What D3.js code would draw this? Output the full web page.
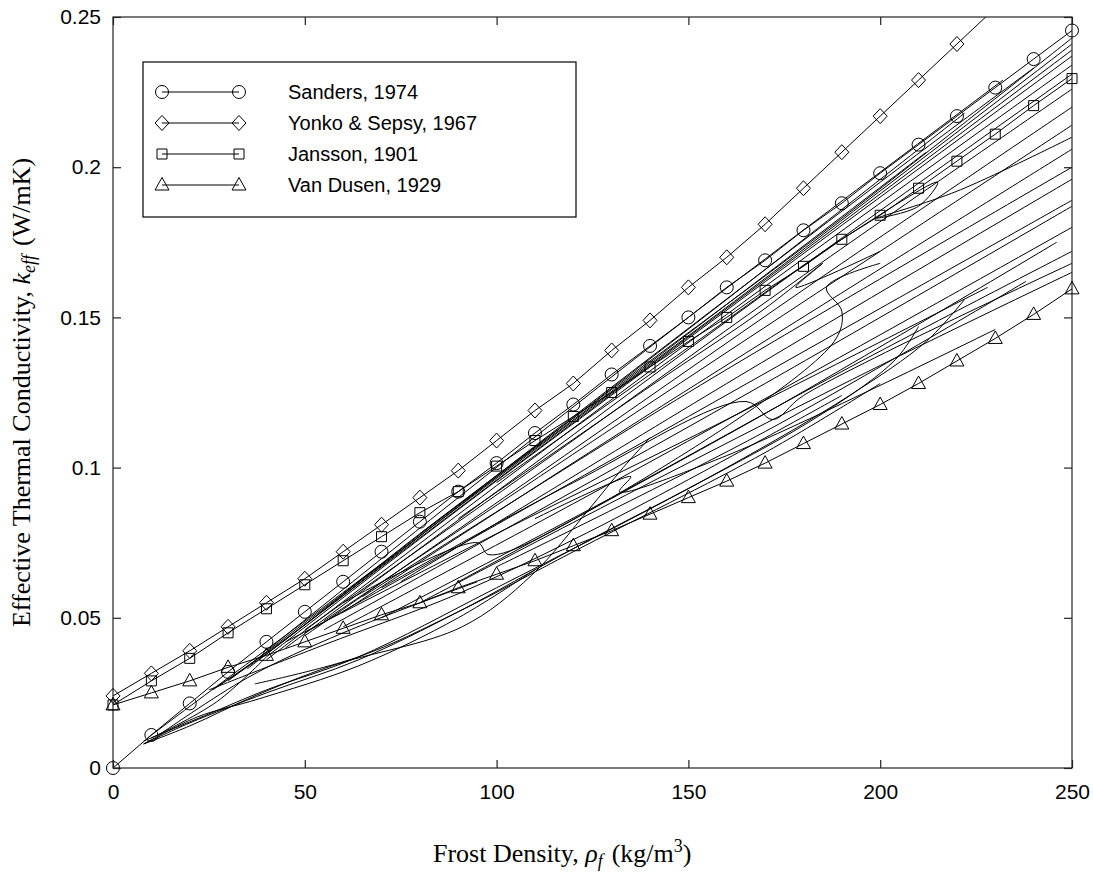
<!DOCTYPE html>
<html>
<head>
<meta charset="utf-8">
<script src="https://cdn.jsdelivr.net/npm/d3@7"></script>
<style>
  html, body { margin: 0; padding: 0; background: #fff; }
  svg { display: block; }
  .tick-label { font-family: "Liberation Sans", Arial, sans-serif; font-size: 21px; fill: #000; }
  .axis-title { font-family: "Liberation Serif", "Times New Roman", serif; font-size: 26px; fill: #000; }
  .legend-text { font-family: "Liberation Sans", Arial, sans-serif; font-size: 20px; fill: #000; }
</style>
</head>
<body>
<svg id="chart" width="1093" height="874"></svg>
<script>
// Frost density axis (kg/m^3) and conductivity axis (W/mK)
const xTicks = [0, 50, 100, 150, 200, 250];
const yTicks = [0, 0.05, 0.1, 0.15, 0.2, 0.25];
const yTickLabels = ["0", "0.05", "0.1", "0.15", "0.2", "0.25"];

// Density grid for the four marked correlations
const rho = [0, 10, 20, 30, 40, 50, 60, 70, 80, 90, 100, 110, 120, 130, 140, 150,
             160, 170, 180, 190, 200, 210, 220, 230, 240, 250];

const sanders  = [0, 0.011, 0.0215, 0.032, 0.042, 0.052, 0.062, 0.072, 0.082, 0.092, 0.1015,
                  0.1115, 0.121, 0.131, 0.1405, 0.150, 0.160, 0.169, 0.179, 0.188, 0.198,
                  0.2075, 0.217, 0.2265, 0.236, 0.2455];
const yonko    = [0.024, 0.0315, 0.039, 0.047, 0.055, 0.063, 0.072, 0.081, 0.090, 0.099, 0.109,
                  0.119, 0.128, 0.139, 0.149, 0.160, 0.170, 0.181, 0.193, 0.205, 0.217,
                  0.229, 0.241, 0.253, 0.266, 0.279];
const jansson  = [0.021, 0.029, 0.0365, 0.045, 0.053, 0.061, 0.069, 0.077, 0.085, 0.092, 0.1005,
                  0.109, 0.117, 0.125, 0.1335, 0.142, 0.150, 0.159, 0.167, 0.176, 0.184,
                  0.193, 0.202, 0.211, 0.2205, 0.2295];
const vanDusen = [0.021, 0.025, 0.029, 0.0335, 0.0375, 0.042, 0.0465, 0.051, 0.055, 0.060, 0.0645,
                  0.069, 0.074, 0.079, 0.0845, 0.090, 0.0955, 0.1015, 0.108, 0.1145, 0.121,
                  0.128, 0.1355, 0.143, 0.151, 0.1595];

const seriesNames = ["Sanders, 1974", "Yonko & Sepsy, 1967", "Jansson, 1901", "Van Dusen, 1929"];
const seriesSymbols = ["circle", "diamond", "square", "triangle"];

// Other published correlations, each as [density, k_eff] pairs.
// Upper bundle: close to the Sanders / Jansson curves
const upperBundle = [
  [[27,0.027],[40,0.038],[80,0.078],[130,0.126],[190,0.183],[250,0.243]],
  [[30,0.029],[60,0.058],[110,0.106],[170,0.163],[250,0.241]],
  [[35,0.033],[70,0.067],[120,0.115],[180,0.172],[250,0.239]],
  [[40,0.037],[90,0.086],[150,0.143],[250,0.237]],
  [[40,0.036],[100,0.094],[160,0.151],[250,0.234]],
  [[45,0.040],[100,0.092],[170,0.158],[250,0.231]],
  [[50,0.046],[110,0.100],[180,0.164],[250,0.226]],
  [[50,0.044],[120,0.106],[190,0.168],[250,0.220]],
  [[55,0.049],[130,0.113],[200,0.172],[250,0.214]],
  [[60,0.052],[140,0.118],[250,0.206]],
  [[65,0.057],[150,0.125],[250,0.200]],
  [[75,0.062],[160,0.128],[250,0.196]],
  [[40,0.039],[90,0.090],[150,0.150],[232,0.229]],
  [[60,0.058],[120,0.117],[200,0.195],[240,0.233]],
  [[80,0.078],[140,0.135],[212,0.205]],
  [[26,0.026],[45,0.043],[95,0.092],[160,0.156],[222,0.218]],
  [[100,0.095],[150,0.140],[190,0.176],[215,0.195],[210,0.187],[199,0.183],[220,0.192],[250,0.210]],
  [[90,0.083],[140,0.127],[170,0.153],[185,0.168],[178,0.160],[200,0.172]]
];

// Middle bundle: between the Jansson and Van Dusen curves
const middleBundle = [
  [[50,0.045],[100,0.081],[150,0.117],[200,0.153],[250,0.189]],
  [[55,0.046],[110,0.085],[170,0.128],[250,0.187]],
  [[60,0.047],[120,0.088],[180,0.130],[250,0.180]],
  [[70,0.050],[130,0.090],[190,0.132],[250,0.172]],
  [[80,0.055],[140,0.095],[200,0.134],[250,0.165]],
  [[90,0.062],[170,0.118],[246,0.175]],
  [[100,0.067],[170,0.112],[238,0.162]],
  [[45,0.042],[100,0.078],[160,0.116],[228,0.160]],
  [[70,0.060],[120,0.095],[165,0.122],[172,0.116],[180,0.124],[250,0.168]],
  [[60,0.055],[95,0.075],[98,0.071],[130,0.090],[188,0.142],[190,0.152],[186,0.160],[200,0.168]],
  [[110,0.083],[135,0.097],[132,0.092],[160,0.104],[230,0.146]]
];

// Lower bundle: curves starting near the origin, closing in on Van Dusen
const lowerBundle = [
  [[8,0.008],[20,0.015],[40,0.025],[64,0.036],[90,0.052],[120,0.073],[160,0.100],[192,0.124],[212,0.142],[222,0.156]],
  [[8,0.008],[20,0.014],[37,0.024],[57,0.034],[91,0.047],[109,0.064],[124,0.086],[133,0.100],[140,0.110]],
  [[8,0.009],[25,0.018],[40,0.026],[64,0.037],[100,0.060],[150,0.093],[185,0.118],[204,0.136],[210,0.147]],
  [[10,0.010],[27,0.022],[40,0.037]],
  [[8,0.008],[22,0.017],[38,0.023],[64,0.034],[90,0.050],[110,0.066]],
  [[37,0.028],[64,0.037],[90,0.052],[120,0.072],[170,0.105],[200,0.128]],
  [[9,0.010],[30,0.030],[48,0.047],[70,0.068]],
  [[12,0.011],[35,0.030],[60,0.045],[95,0.062]],
  [[25,0.026],[55,0.041],[90,0.058],[120,0.076],[150,0.096],[190,0.124]]
];

const x = d3.scaleLinear().domain([0, 250]).range([113, 1072]);
const y = d3.scaleLinear().domain([0, 0.25]).range([768, 17]);

const svg = d3.select("#chart");

svg.append("defs").append("clipPath").attr("id", "plot-clip")
  .append("rect")
  .attr("x", x(0)).attr("y", y(0.25))
  .attr("width", x(250) - x(0)).attr("height", y(0) - y(0.25));

const plot = svg.append("g").attr("clip-path", "url(#plot-clip)");

// Thin correlation curves
const curveLine = d3.line()
  .x(d => x(d[0])).y(d => y(d[1]))
  .curve(d3.curveCatmullRom.alpha(0.5));

[upperBundle, middleBundle, lowerBundle].forEach(group => {
  plot.selectAll(null)
    .data(group)
    .enter().append("path")
    .attr("d", curveLine)
    .attr("fill", "none")
    .attr("stroke", "#000")
    .attr("stroke-width", 1);
});

// Marked correlations
const markedSeries = [sanders, yonko, jansson, vanDusen].map((vals, i) => ({
  name: seriesNames[i],
  symbol: seriesSymbols[i],
  points: rho.map((r, j) => [r, vals[j]])
}));

const straight = d3.line().x(d => x(d[0])).y(d => y(d[1]));

function symbolPath(kind) {
  switch (kind) {
    case "circle":  return "M6.5,0A6.5,6.5 0 1,1 -6.5,0A6.5,6.5 0 1,1 6.5,0Z";
    case "diamond": return "M0,-7.5L7,0L0,7.5L-7,0Z";
    case "square":  return "M-5,-5L5,-5L5,5L-5,5Z";
    case "triangle":return "M0,-7.5L7,5L-7,5Z";
  }
}

// Lines are clipped to the axes; markers inside the data range are drawn in full
const markerLayer = svg.append("g");
markedSeries.forEach(s => {
  plot.append("path")
    .attr("d", straight(s.points))
    .attr("fill", "none")
    .attr("stroke", "#000")
    .attr("stroke-width", 1);
});

// Axes box
svg.append("rect")
  .attr("x", x(0)).attr("y", y(0.25))
  .attr("width", x(250) - x(0)).attr("height", y(0) - y(0.25))
  .attr("fill", "none").attr("stroke", "#222").attr("stroke-width", 1.2);

markedSeries.forEach(s => {
  svg.append("g").selectAll(null)
    .data(s.points.filter(p => p[1] <= 0.25))
    .enter().append("path")
    .attr("transform", d => `translate(${x(d[0])},${y(d[1])})`)
    .attr("d", symbolPath(s.symbol))
    .attr("fill", "none")
    .attr("stroke", "#000")
    .attr("stroke-width", 1);
});

// Inward ticks on all four sides
const tickLen = 8;
const xAxisBottom = d3.axisBottom(x).tickValues(xTicks).tickSize(-tickLen).tickFormat(d3.format("d")).tickPadding(tickLen + 8);
const xAxisTop = d3.axisTop(x).tickValues(xTicks).tickSize(-tickLen).tickFormat("");
const yAxisLeft = d3.axisLeft(y).tickValues(yTicks).tickSize(-tickLen).tickFormat((d, i) => yTickLabels[i]).tickPadding(tickLen + 4);
const yAxisRight = d3.axisRight(y).tickValues(yTicks).tickSize(-tickLen).tickFormat("");

function styleAxis(g) {
  g.attr("font-family", null).attr("font-size", null);
  g.select(".domain").remove();
  g.selectAll(".tick line").attr("stroke", "#222").attr("stroke-width", 1.2);
  g.selectAll(".tick text").attr("class", "tick-label");
}

svg.append("g").attr("transform", `translate(0,${y(0)})`).call(xAxisBottom).call(styleAxis);
svg.append("g").attr("transform", `translate(0,${y(0.25)})`).call(xAxisTop).call(styleAxis);
svg.append("g").attr("transform", `translate(${x(0)},0)`).call(yAxisLeft).call(styleAxis);
svg.append("g").attr("transform", `translate(${x(250)},0)`).call(yAxisRight).call(styleAxis);

// Axis titles
const xt = svg.append("text").attr("class", "axis-title")
  .attr("x", 433).attr("y", 862).attr("text-anchor", "start");
xt.append("tspan").text("Frost Density, ");
xt.append("tspan").attr("font-style", "italic").text("ρ");
xt.append("tspan").attr("font-style", "italic").attr("font-size", "18px").attr("dy", 5).text("f");
xt.append("tspan").attr("dy", -5).attr("dx", 9).text("(kg/m");
xt.append("tspan").attr("font-size", "18px").attr("dy", -10).text("3");
xt.append("tspan").attr("dy", 10).text(")");

const yt = svg.append("text").attr("class", "axis-title")
  .attr("transform", `translate(30,${(y(0) + y(0.25)) / 2}) rotate(-90)`)
  .attr("text-anchor", "middle");
yt.append("tspan").text("Effective Thermal Conductivity, ");
yt.append("tspan").attr("font-style", "italic").text("k");
yt.append("tspan").attr("font-style", "italic").attr("font-size", "18px").attr("dy", 5).text("eff");
yt.append("tspan").attr("dy", -5).attr("dx", 9).text("(W/mK)");

// Legend
const legend = svg.append("g");
legend.append("rect")
  .attr("x", 143).attr("y", 62).attr("width", 576 - 143).attr("height", 217 - 62)
  .attr("fill", "#fff").attr("stroke", "#000").attr("stroke-width", 1.2);

const rowY = [92, 123, 154, 185];
markedSeries.forEach((s, i) => {
  const g = legend.append("g").attr("transform", `translate(0,${rowY[i]})`);
  g.append("line").attr("x1", 162).attr("x2", 239).attr("y1", 0).attr("y2", 0)
    .attr("stroke", "#000").attr("stroke-width", 1);
  [162, 239].forEach(cx => {
    g.append("path").attr("transform", `translate(${cx},0)`)
      .attr("d", symbolPath(s.symbol))
      .attr("fill", "none").attr("stroke", "#000").attr("stroke-width", 1);
  });
  g.append("text").attr("class", "legend-text")
    .attr("x", 288).attr("y", 0).attr("dy", "0.35em").text(s.name);
});
</script>
</body>
</html>
